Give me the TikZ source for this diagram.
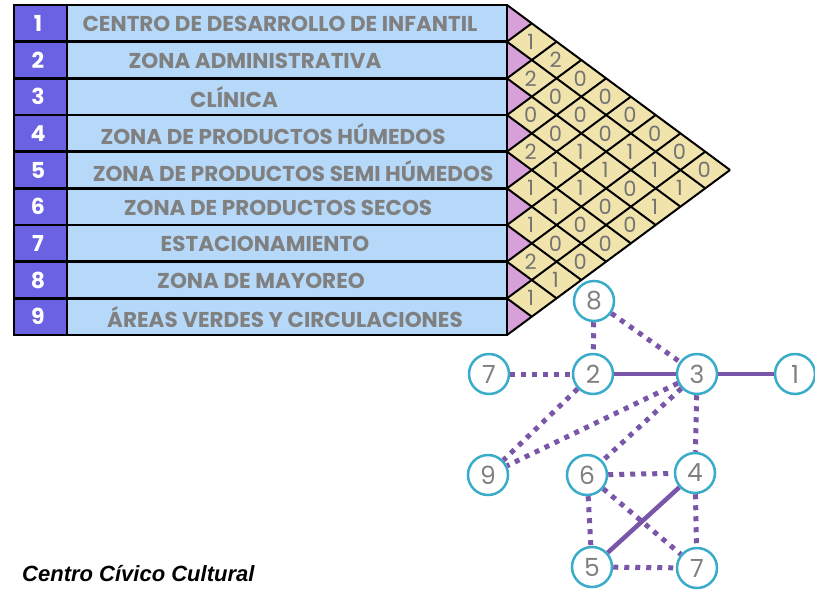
\documentclass[tikz,border=0pt]{standalone}
\usepackage{fontspec}
\newfontfamily\gothic{Poppins}
\newfontfamily\arialf{Liberation Sans}
\definecolor{numblue}{RGB}{106,98,226}
\definecolor{cellblue}{RGB}{182,217,250}
\definecolor{txtgray}{RGB}{128,128,128}
\definecolor{mpink}{RGB}{216,160,216}
\definecolor{myellow}{RGB}{240,228,172}
\definecolor{nodeteal}{RGB}{56,172,200}
\definecolor{edgepurple}{RGB}{122,86,168}
\tikzset{
  numtxt/.style={text=white,font=\gothic\bfseries\fontsize{22}{22}\selectfont,inner sep=0pt},
  labtxt/.style={text=txtgray,font=\gothic\bfseries\fontsize{21.5}{21.5}\selectfont,inner sep=0pt},
  cellnum/.style={text=txtgray!90!black,font=\gothic\fontsize{21}{21}\selectfont,inner sep=0pt},
  gridline/.style={line width=2pt,black},
  gnode/.style={circle,draw=nodeteal,line width=2.5pt,fill=white,minimum size=40pt,inner sep=0pt,text=txtgray,font=\gothic\fontsize{25}{25}\selectfont},
  dotedge/.style={draw=edgepurple,line width=5pt,dash pattern=on 5pt off 6pt},
  solidedge/.style={draw=edgepurple,line width=4.5pt}
}
\begin{document}
\begin{tikzpicture}[x=1pt,y=-1pt]
\useasboundingbox (0,0) rectangle (815,590);
\clip (0,0) rectangle (815,590);
% table
\fill[numblue] (14,5) rectangle (67,335);
\fill[cellblue] (67,5) rectangle (507,335);
\foreach \k in {1,...,8} \draw[line width=2.5pt] (14,{5+\k*36.667}) -- (507,{5+\k*36.667});
\draw[line width=2.5pt] (14,5) rectangle (507,335);
\draw[line width=2.5pt] (67,5) -- (67,335);
\foreach \k in {1,...,9} \node[numtxt] (n\k) at (38,{5+(\k-0.5)*36.667}) {\k};
\node[labtxt] (t1) at (280,24) {CENTRO DE DESARROLLO DE INFANTIL};
\node[labtxt] (t2) at (255,61) {ZONA ADMINISTRATIVA};
\node[labtxt] (t3) at (234,97.5) {CLÍNICA};
\node[labtxt] (t4) at (273,134) {ZONA DE PRODUCTOS HÚMEDOS};
\node[labtxt] (t5) at (293,171) {ZONA DE PRODUCTOS SEMI HÚMEDOS};
\node[labtxt] (t6) at (278,207.5) {ZONA DE PRODUCTOS SECOS};
\node[labtxt] (t7) at (265,244) {ESTACIONAMIENTO};
\node[labtxt] (t8) at (261,281) {ZONA DE MAYOREO};
\node[labtxt] (t9) at (285,317.5) {ÁREAS VERDES Y CIRCULACIONES};
% relation triangle
\fill[myellow] (507,5) -- (730,170) -- (507,335) -- cycle;
\foreach \k in {1,...,9}
  \fill[mpink] (507,{5+(\k-1)*36.667}) -- (531.78,{5+(\k-1)*36.667+18.333}) -- (507,{5+\k*36.667}) -- cycle;
\foreach \k in {0,...,8}
  \draw[gridline] (507,{5+\k*36.667}) -- ++({(9-\k)*24.778},{(9-\k)*18.333});
\foreach \m in {1,...,9}
  \draw[gridline] (507,{5+\m*36.667}) -- ++({\m*24.778},{-\m*18.333});
\draw[gridline] (507,5) -- (507,335);
\foreach \i/\j/\v in {1/2/1,2/3/2,3/4/0,4/5/2,5/6/1,6/7/1,7/8/2,8/9/1,
  1/3/2,2/4/0,3/5/0,4/6/1,5/7/1,6/8/0,7/9/1,
  1/4/0,2/5/0,3/6/1,4/7/1,5/8/0,6/9/0,
  1/5/0,2/6/0,3/7/1,4/8/0,5/9/0,
  1/6/0,2/7/1,3/8/0,4/9/0,
  1/7/0,2/8/1,3/9/1,
  1/8/0,2/9/1,
  1/9/0}
  \node[cellnum] (c\i\j) at ({506+(\j-\i)*24.778},{5+(\i-0.5)*36.667+(\j-\i)*18.333}) {\v};
% graph
\node[gnode] (g8) at (594,301) {8};
\node[gnode] (g7a) at (489,374) {7};
\node[gnode] (g2) at (593,374) {2};
\node[gnode] (g3) at (697,374) {3};
\node[gnode] (g1) at (795,374) {1};
\node[gnode] (g9) at (488,475) {9};
\node[gnode] (g6) at (587,475) {6};
\node[gnode] (g4) at (695,473) {4};
\node[gnode] (g5) at (592,567) {5};
\node[gnode] (g7b) at (697,568) {7};
\draw[dotedge] (g8) -- (g2);
\draw[dotedge] (g8) -- (g3);
\draw[dotedge] (g7a) -- (g2);
\draw[solidedge] (g2) -- (g3);
\draw[solidedge] (g3) -- (g1);
\draw[dotedge] (g2) -- (g9);
\draw[dotedge] (g3) -- (g9);
\draw[dotedge] (g3) -- (g6);
\draw[dotedge] (g3) -- (g4);
\draw[dotedge] (g6) -- (g4);
\draw[dotedge] (g6) -- (g5);
\draw[dotedge] (g6) -- (g7b);
\draw[dotedge] (g4) -- (g7b);
\draw[solidedge] (g5) -- (g4);
\draw[dotedge] (g5) -- (g7b);
% caption at the lower edge
\node[anchor=base west,inner sep=0pt,font=\arialf\bfseries\itshape\fontsize{22}{22}\selectfont] (cap) at (22,581) {Centro Cívico Cultural};
\end{tikzpicture}
\end{document}
